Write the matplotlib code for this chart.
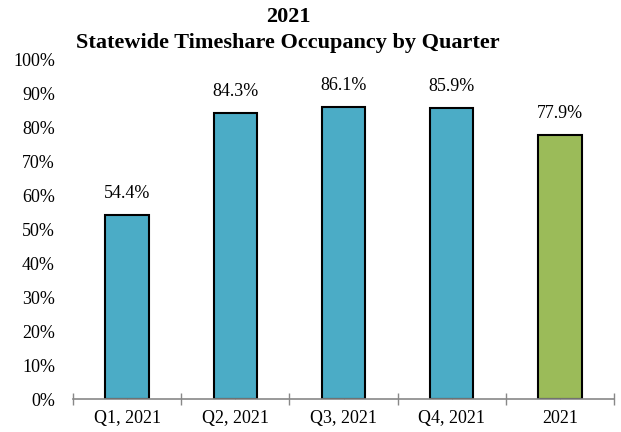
import matplotlib.pyplot as plt
from matplotlib.ticker import FixedLocator, PercentFormatter

categories = ["Q1, 2021", "Q2, 2021", "Q3, 2021", "Q4, 2021", "2021"]
occupancy = [54.4, 84.3, 86.1, 85.9, 77.9]
bar_colors = ["#4BACC6", "#4BACC6", "#4BACC6", "#4BACC6", "#9BBB59"]

plt.rcParams["font.family"] = ["Liberation Serif", "DejaVu Serif"]

fig = plt.figure(figsize=(6.21, 4.32), dpi=100)
ax = fig.add_axes([73 / 621, 1 - 399 / 432, (614 - 73) / 621, (399 - 60) / 432])

x = list(range(len(categories)))
bars = ax.bar(x, occupancy, width=0.4, color=bar_colors,
              edgecolor="black", linewidth=1.5, zorder=2)
for b, v in zip(bars, occupancy):
    ax.text(b.get_x() + b.get_width() / 2, v + 3.8, "%.1f%%" % v,
            ha="center", va="bottom", fontsize=13)

ax.set_xlim(-0.5, len(categories) - 0.5)
ax.set_ylim(0, 100)
ax.set_yticks(range(0, 101, 10))
ax.yaxis.set_major_formatter(PercentFormatter(decimals=0))
ax.tick_params(axis="y", length=0, labelsize=13, pad=13)

ax.set_xticks(x)
ax.set_xticklabels(categories, fontsize=13)
ax.tick_params(axis="x", which="major", direction="in", length=4,
               color="#888888", pad=8)
ax.xaxis.set_minor_locator(FixedLocator([i - 0.5 for i in range(len(categories) + 1)]))
ax.tick_params(axis="x", which="minor", direction="inout", length=9,
               color="#888888", width=1)

for s in ["left", "right", "top"]:
    ax.spines[s].set_visible(False)
ax.spines["bottom"].set_color("#888888")
ax.spines["bottom"].set_linewidth(1.2)
ax.spines["bottom"].set_zorder(3)

fig.text(288 / 621, 1 - 17 / 432, "2021", ha="center", va="center",
         fontsize=16, fontweight="bold")
fig.text(288 / 621, 1 - 43 / 432, "Statewide Timeshare Occupancy by Quarter",
         ha="center", va="center", fontsize=16, fontweight="bold")

fig.savefig("out.png", dpi=100)
